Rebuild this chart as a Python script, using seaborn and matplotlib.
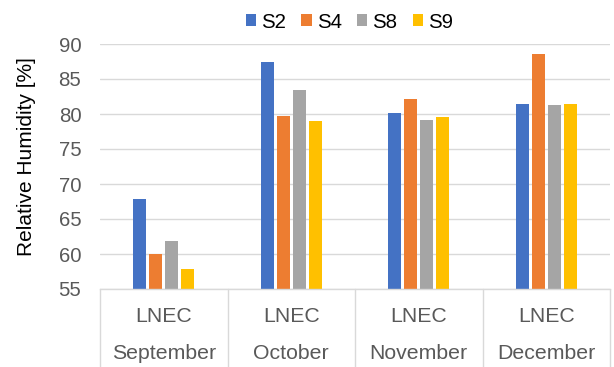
import matplotlib
matplotlib.use('Agg')
import matplotlib.pyplot as plt
import seaborn as sns
import pandas as pd
from matplotlib.transforms import blended_transform_factory

# ---- data ----
months = ['September', 'October', 'November', 'December']
site = 'LNEC'
series = ['S2', 'S4', 'S8', 'S9']
s2 = [67.8, 87.5, 80.2, 81.4]
s4 = [60.0, 79.7, 82.1, 88.6]
s8 = [61.8, 83.5, 79.1, 81.3]
s9 = [57.9, 79.0, 79.6, 81.4]
colors = ['#4472C4', '#ED7D31', '#A5A5A5', '#FFC000']
yticks = [55, 60, 65, 70, 75, 80, 85, 90]

sns.set_theme(style='white')
plt.rcParams['font.family'] = ['Liberation Sans', 'DejaVu Sans']

df = pd.DataFrame({
    'month': months * 4,
    'series': [s for s in series for _ in months],
    'value': s2 + s4 + s8 + s9,
})

fig = plt.figure(figsize=(6.14, 3.67), dpi=100)
ax = fig.add_axes([100 / 614, 78 / 367, 510 / 614, 245 / 367])

sns.barplot(data=df, x='month', y='value', hue='series', order=months,
            hue_order=series, palette=colors, saturation=1, width=0.5,
            gap=0.18, linewidth=0, ax=ax)

handles, labels = ax.get_legend_handles_labels()
if ax.get_legend() is not None:
    ax.get_legend().remove()

ax.set_ylim(55, 90)
ax.set_xlim(-0.5, 3.5)
ax.set_yticks(yticks)
ax.yaxis.grid(True, color='#D9D9D9', lw=1)
ax.set_axisbelow(True)
for side in ['top', 'right', 'left']:
    ax.spines[side].set_visible(False)
ax.spines['bottom'].set_color('#D9D9D9')
ax.spines['bottom'].set_linewidth(1)
ax.tick_params(axis='y', length=0, pad=13.5, labelsize=14.7, labelcolor='#595959')
ax.tick_params(axis='x', length=0, labelbottom=False)
ax.set_xlabel('')
ax.set_ylabel('Relative Humidity [%]', fontsize=15, color='#000000')
ax.yaxis.set_label_coords(-0.125, (289 - 157) / 245)

# two-level category axis
tr = blended_transform_factory(ax.transData, ax.transAxes)
for i, m in enumerate(months):
    ax.text(i, -(322 - 289) / 245, site, transform=tr, ha='center',
            va='baseline', fontsize=15.3, color='#595959')
    ax.text(i, -(359 - 289) / 245, m, transform=tr, ha='center',
            va='baseline', fontsize=15.3, color='#595959')
for xb in [-0.5, 0.5, 1.5, 2.5, 3.5]:
    ax.plot([xb, xb], [0, -78 / 245], transform=tr, clip_on=False,
            color='#D9D9D9', lw=1)

fig.legend(handles, labels, loc='center', bbox_to_anchor=(349.5 / 614, 1 - 22 / 367),
           ncol=4, frameon=False, handlelength=0.5, handleheight=0.5,
           handletextpad=0.25, columnspacing=0.75, fontsize=14.7,
           borderaxespad=0, labelcolor='#000000')

fig.savefig('out.png', dpi=100)
